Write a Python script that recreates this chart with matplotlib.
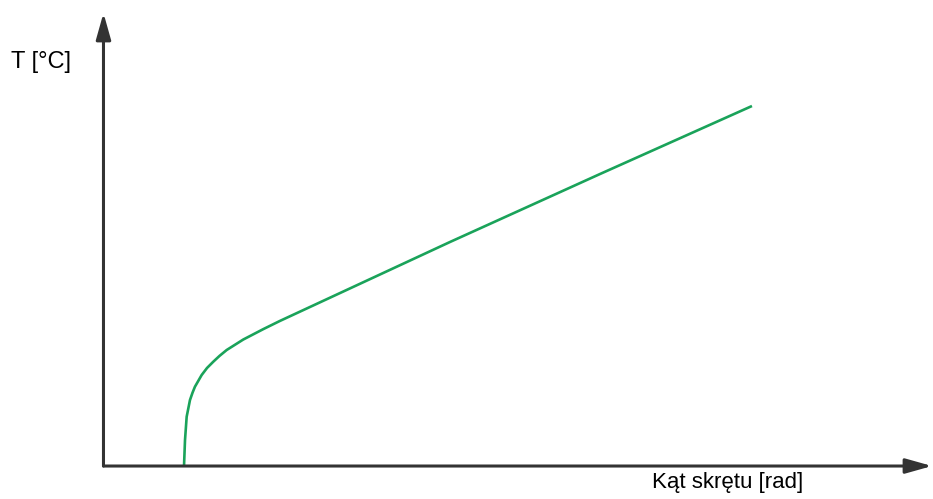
import matplotlib.pyplot as plt

# curve (x: angle, y: temperature, arbitrary units 0..10)
angle = [0.972, 0.984, 1.004, 1.044, 1.075, 1.104, 1.185, 1.250, 1.325, 1.400,
         1.487, 1.687, 1.929, 2.130, 4.182, 5.993, 7.827]
temp = [0.0, 0.574, 1.088, 1.457, 1.620, 1.751, 2.009, 2.165, 2.302, 2.430,
        2.561, 2.792, 3.022, 3.203, 4.945, 6.446, 7.947]

x_label = "Kąt skrętu [rad]"
y_label = "T [°C]"

plt.rcParams['font.family'] = ['Liberation Sans', 'DejaVu Sans']

fig = plt.figure(figsize=(9.33, 4.99), dpi=100)
ax = fig.add_axes([0, 0, 1, 1])
ax.set_xlim(-1.249, 10.012)
ax.set_ylim(-0.728, 10.287)
ax.axis('off')

axis_col = '#333333'
arrow = dict(arrowstyle='-|>,head_length=1.6,head_width=0.45', color=axis_col,
             lw=2.2, shrinkA=0, shrinkB=0)
ax.annotate('', xy=(0, 10.0), xytext=(0, 0), arrowprops=arrow)
ax.annotate('', xy=(10.0, 0), xytext=(0, 0), arrowprops=arrow)

ax.plot(angle, temp, color='#1aa35a', lw=1.9, solid_capstyle='butt',
        solid_joinstyle='round')

fig.text(11 / 933, 1 - 62 / 499, y_label, fontsize=17, va='center', ha='left')
fig.text(652 / 933, 1 - 488 / 499, x_label, fontsize=16, va='baseline', ha='left')

fig.savefig('out.png', dpi=100)
